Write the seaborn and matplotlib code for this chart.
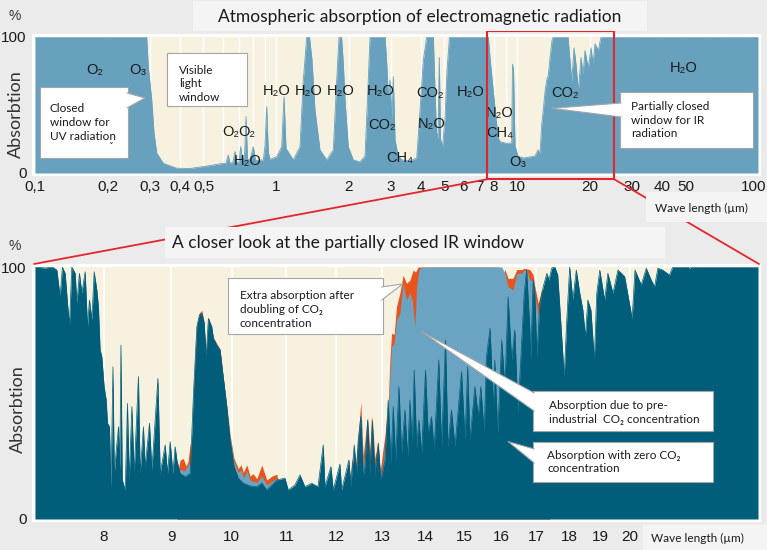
import matplotlib
matplotlib.use("Agg")
import matplotlib.pyplot as plt
import matplotlib.transforms as mtransforms
import seaborn as sns
import pandas as pd
from matplotlib import font_manager
from matplotlib.patches import Rectangle, Polygon
from matplotlib.lines import Line2D
from matplotlib.ticker import NullLocator, NullFormatter

# ------------------------------------------------------------------ data
# Full spectrum (top panel): wavelength in micrometre, absorption in %
full_wavelength = [0.100, 0.2906, 0.2952, 0.3050, 0.3118, 0.3199, 0.3407, 0.3873, 0.4398, 0.5158,
                   0.6043, 0.6201, 0.6339, 0.6442, 0.6629, 0.6756, 0.6887, 0.7021, 0.7135, 0.7261,
                   0.7401, 0.7508, 0.7616, 0.7800, 0.8051, 0.8222, 0.8857, 0.9002, 0.9150, 0.9291,
                   0.9444, 1.0067, 1.056, 1.0794, 1.1004, 1.1797, 1.2575, 1.2983, 1.3411, 1.377,
                   1.4105, 1.451, 1.522, 1.623, 1.729, 1.786, 1.826, 1.870, 1.902, 1.933,
                   1.995, 2.092, 2.231, 2.341, 2.415, 2.455, 2.834, 2.880, 2.924, 2.972,
                   3.029, 3.067, 3.118, 3.208, 3.324, 3.597, 3.835, 3.959, 4.086, 4.220,
                   4.496, 4.568, 4.634, 4.701, 4.760, 4.815, 4.908, 5.025, 5.122, 5.246,
                   7.486, 7.603, 7.727, 7.975, 8.238, 8.364, 8.502, 9.065, 9.506, 9.579,
                   9.672, 9.811, 10.095, 10.62, 11.32, 11.88, 12.23, 12.46, 12.66, 12.85,
                   13.07, 13.28, 13.49, 13.71, 13.98, 14.15, 16.28, 16.87, 17.24, 17.57,
                   17.97, 18.44, 18.79, 19.15, 19.76, 20.28, 20.67, 21.07, 21.74, 22.31,
                   100.0]
full_absorption = [100, 100, 78, 53.7, 29.4, 14.7, 7.1, 3.5, 3.3, 5.1,
                   7.1, 7, 13.2, 7, 8, 15.7, 7.5, 8, 19.3, 9,
                   12, 41.4, 10, 10, 19.3, 9, 9.6, 20, 48.8, 15,
                   10, 12, 19.3, 56.1, 18, 9.6, 19.3, 68.4, 100, 100,
                   83, 46.3, 17, 9.6, 17, 68.4, 100, 100, 80.7, 53.7,
                   19.3, 9.6, 8.1, 12.5, 68.4, 100, 100, 80.7, 56, 68.4,
                   39, 70.8, 24.3, 13.2, 9.6, 8.8, 11, 46.3, 83, 100,
                   100, 60, 30, 25, 85, 25, 19, 40, 75, 100,
                   100, 100, 84.6, 59.8, 35.3, 25.7, 23, 21.8, 22, 80,
                   75, 20, 12.5, 11, 11.8, 12.5, 17, 14, 35.3, 46.3,
                   60, 68.4, 72, 84.6, 97.8, 100, 100, 67, 92, 80,
                   60, 85, 72, 90, 77, 92, 80, 95, 90, 100,
                   100]

# IR window (bottom panel): absorption with zero CO2
zero_wavelength = [7.10, 7.23, 7.315, 7.375, 7.417, 7.447, 7.483, 7.513, 7.539, 7.570,
                   7.614, 7.637, 7.671, 7.703, 7.748, 7.779, 7.806, 7.839, 7.870, 7.907,
                   7.929, 7.952, 7.976, 8.008, 8.037, 8.055, 8.083, 8.104, 8.132, 8.151,
                   8.179, 8.212, 8.229, 8.246, 8.265, 8.307, 8.340, 8.365, 8.404, 8.438,
                   8.501, 8.526, 8.575, 8.601, 8.666, 8.702, 8.794, 8.829, 8.906, 8.942,
                   8.984, 9.026, 9.062, 9.089, 9.141, 9.222, 9.302, 9.356, 9.411, 9.453,
                   9.493, 9.531, 9.564, 9.602, 9.659, 9.686, 9.743, 9.799, 9.845, 9.914,
                   9.971, 10.040, 10.116, 10.205, 10.325, 10.446, 10.537, 10.630, 10.817, 10.971,
                   11.034, 11.164, 11.261, 11.360, 11.493, 11.620, 11.727, 11.762, 11.885, 11.933,
                   12.073, 12.109, 12.263, 12.306, 12.377, 12.428, 12.463, 12.521, 12.571, 12.610,
                   12.669, 12.720, 12.771, 12.831, 12.905, 12.966, 13.057, 13.132, 13.194, 13.247,
                   13.302, 13.379, 13.442, 13.519, 13.583, 13.638, 13.692, 13.740, 13.797, 13.852,
                   13.917, 14.013, 14.077, 14.160, 14.224, 14.341, 14.409, 14.51, 14.57, 14.66,
                   14.75, 14.92, 15.01, 15.08, 15.14, 15.27, 15.36, 15.43, 15.52, 15.58,
                   15.68, 15.77, 15.81, 15.89, 16.00, 16.09, 16.18, 16.28, 16.37, 16.46,
                   16.64, 16.71, 16.80, 16.83, 16.90, 16.95, 17.01, 17.10, 17.20, 17.31,
                   17.37, 17.46, 17.55, 17.64, 17.73, 17.84, 17.92, 18.01, 18.11, 18.22,
                   18.33, 18.43, 18.51, 18.59, 18.69, 18.80, 18.88, 18.98, 19.14, 19.25,
                   19.42, 19.59, 19.82, 20.08, 20.18, 20.40, 20.58, 20.76, 20.88, 21.00,
                   21.18, 21.43, 21.55, 22.11, 22.19, 22.27, 25.0]
zero_absorption = [100, 99.6, 100, 98.8, 88.2, 99.9, 97.5, 85.6, 77, 100,
                   97.5, 85.6, 97.5, 89.6, 98.1, 76.3, 86.9, 79, 98.1, 90.9,
                   84.2, 67.1, 64.4, 52.5, 47.2, 38, 36.6, 12.2, 60.4, 18.1,
                   27.4, 36.6, 19.4, 69, 15.5, 11.5, 45.9, 15.5, 44.6, 18.1,
                   56.5, 18.1, 36.6, 20.8, 38, 19.4, 55.8, 18.1, 29.4, 18.1,
                   30.7, 18.1, 28.7, 23.4, 18.1, 16.8, 18.1, 49.9, 76.3, 81,
                   81.6, 77.7, 64.4, 79.6, 76.3, 71.7, 69, 67.1, 57.8, 44.6,
                   31.3, 20.8, 16.2, 14.2, 13.1, 12.8, 14.3, 11.5, 15.5, 16.2,
                   11.5, 13.5, 17.5, 12.8, 14.2, 12.8, 29.4, 12.8, 20.8, 11.5,
                   21.8, 11.5, 23.4, 12.8, 29.4, 18.1, 31.3, 40.6, 16.8, 20.8,
                   39.3, 18.1, 39.3, 18.1, 30, 15.5, 23.4, 47.2, 22.1, 44.6,
                   23.4, 52.5, 26.1, 43.3, 24.7, 47.2, 28.7, 59.1, 28.7, 39.3,
                   26.1, 59.1, 34, 40.6, 27.4, 63.1, 28.7, 71, 28.7, 43.3,
                   28.7, 58.5, 31.3, 60.4, 31.3, 52.5, 40.6, 52.5, 34, 64.4,
                   75.7, 43.3, 63.1, 34, 71, 52.5, 88.2, 63.1, 75, 42,
                   89.6, 98.8, 76.3, 63.1, 94.8, 89.6, 64.4, 85.6, 92.2, 97.5,
                   94.8, 99.6, 100, 96.8, 79, 56.5, 79, 100, 86.9, 98.8,
                   89.6, 82.9, 72.3, 86.9, 82.9, 63.1, 89.6, 98.8, 86.9, 97.5,
                   89.6, 98.8, 96.2, 79.6, 98.8, 92.9, 99.5, 94.8, 92.2, 99.5,
                   98.8, 96.8, 100, 100, 99.5, 100, 100]

# Absorption due to pre-industrial CO2 concentration
pre_wavelength = [9.089, 9.141, 9.206, 9.270, 9.318, 9.356, 9.411, 9.493, 9.531, 9.564,
                  9.602, 9.686, 9.799, 9.914, 9.971, 10.040, 10.116, 10.164, 10.205, 10.266,
                  10.325, 10.38, 10.446, 10.537, 10.630, 10.726, 10.817, 10.876, 12.242, 12.334,
                  12.392, 12.463, 12.521, 12.571, 12.669, 12.720, 12.771, 12.831, 12.905, 12.943,
                  13.0, 13.057, 13.132, 13.170, 13.209, 13.268, 13.323, 13.400, 13.477, 13.557,
                  13.638, 13.692, 13.757, 13.797, 13.852, 13.917, 16.00, 16.09, 16.18, 16.32,
                  16.43, 16.57, 16.64, 16.71, 16.80, 16.90, 16.95, 17.05, 17.15, 17.25,
                  17.40]
pre_absorption = [16.8, 19.8, 19.0, 21.4, 22.6, 45, 70, 81.8, 76, 63,
                  79, 70, 66, 44, 32, 22.5, 18.5, 19.5, 16.3, 19,
                  15.5, 15, 14.5, 17, 13.5, 15, 16.3, 11, 11, 22,
                  16, 30, 42, 20, 37, 20, 38, 20, 28, 16,
                  20, 28.7, 43, 56.5, 68.4, 69.7, 79, 81.6, 93.5, 86.9,
                  89.6, 86.9, 76.3, 92.2, 98.8, 100, 100, 97.5, 92.2, 90.9,
                  97.5, 97.5, 98.8, 99, 94.8, 94.8, 89.6, 80.3, 89.6, 90,
                  90]

# Extra absorption after doubling of CO2 concentration
dbl_wavelength = [9.089, 9.141, 9.190, 9.238, 9.270, 9.302, 9.335, 9.356, 9.411, 9.453,
                  9.493, 9.531, 9.564, 9.602, 9.686, 9.799, 9.914, 9.971, 10.040, 10.116,
                  10.164, 10.205, 10.266, 10.325, 10.38, 10.446, 10.537, 10.630, 10.726, 10.817,
                  10.876, 12.242, 12.334, 12.392, 12.463, 12.521, 12.571, 12.669, 12.720, 12.771,
                  12.831, 12.905, 12.943, 13.0, 13.057, 13.132, 13.170, 13.209, 13.268, 13.323,
                  13.400, 13.477, 13.557, 13.638, 13.716, 13.773, 13.835, 15.90, 16.00, 16.04,
                  16.09, 16.18, 16.32, 16.43, 16.57, 16.64, 16.80, 16.90, 16.95, 17.05,
                  17.15, 17.25, 17.40]
dbl_absorption = [16.8, 23.4, 24, 21, 23, 30.3, 26, 50.5, 77, 81.8,
                  82.8, 78.2, 64.4, 80, 72, 67.3, 45, 33.5, 24, 20,
                  21.5, 18.5, 21.5, 17, 18, 16, 21.4, 15.5, 17, 17.8,
                  11, 11, 24, 19, 33, 46.5, 25, 40.5, 27, 41,
                  24, 31, 18, 26, 33, 46, 63, 73.7, 73.3, 84.3,
                  89.6, 96.8, 93.5, 94.8, 98.8, 98, 100, 100, 99, 96.5,
                  99, 95.5, 95.5, 99, 99, 99.5, 99, 97, 92.5, 85.6,
                  90.9, 91, 91]

top_ticks = [0.1, 0.2, 0.3, 0.4, 0.5, 1, 2, 3, 4, 5, 6, 7, 8, 10, 20, 30, 40, 50, 100]
top_tick_labels = ["0,1", "0,2", "0,3", "0,4", "0,5", "1", "2", "3", "4", "5", "6", "7", "8",
                   "10", "20", "30", "40", "50", "100"]
bottom_ticks = [8, 9, 10, 11, 12, 13, 14, 15, 16, 17, 18, 19, 20]
bottom_tick_labels = ["8", "9", "10", "11", "12", "13", "14", "15", "16", "17", "18", "19", "20"]

# molecule labels: (text, wavelength, absorption)
molecule_labels = [("O₂", 0.1774, 75.7), ("O₃", 0.2676, 75.7),
                   ("H₂O", 1.007, 60.5), ("H₂O", 1.371, 60.5), ("H₂O", 1.861, 60.5),
                   ("H₂O", 2.719, 60.5), ("CO₂", 2.753, 35.3),
                   ("O₂", 0.6506, 30.1), ("O₂", 0.758, 30.1), ("H₂O", 0.7602, 8.8),
                   ("CH₄", 3.269, 10.8), ("CO₂", 4.355, 59), ("N₂O", 4.44, 36),
                   ("H₂O", 6.427, 59.6), ("N₂O", 8.502, 43.9), ("CH₄", 8.446, 29.6),
                   ("O₃", 10.13, 8.3), ("CO₂", 15.82, 58.6), ("H₂O", 49.3, 77)]

# ------------------------------------------------------------------ style
sns.set_theme(style="white")
names = {f.name for f in font_manager.fontManager.ttflist}
NARROW = "Liberation Sans Narrow" if "Liberation Sans Narrow" in names else "Liberation Sans"
SANS = ["Lato", "DejaVu Sans"]
plt.rcParams["font.family"] = [NARROW, "DejaVu Sans"]

BG = "#ebebeb"
CREAM = "#f7f1df"
TOPBLUE = "#67a1be"
DARK = "#005e7a"
LIGHT = "#6aa4c2"
ORANGE = "#e8541c"
RED = "#e3262b"
TXT = "#1a1a1a"

W, H = 767, 550
fig = plt.figure(figsize=(W / 100, H / 100), dpi=100, facecolor=BG)


def fx(x):
    return x / W


def fy(y):
    return 1 - y / H


def rect_px(x0, y0, x1, y1, fc, ec="none", lw=0.0, z=3):
    r = Rectangle((fx(x0), fy(y1)), fx(x1) - fx(x0), fy(y0) - fy(y1),
                  transform=fig.transFigure, fc=fc, ec=ec, lw=lw, zorder=z)
    fig.add_artist(r)


def callout(x0, y0, x1, y1, base1=None, base2=None, tip=None):
    rect_px(x0, y0, x1, y1, "white", ec="#a5a5a5", lw=0.8, z=6)
    if tip is not None:
        pts = [base1, tip, base2]
        poly = Polygon([(fx(p[0]), fy(p[1])) for p in pts], closed=True,
                       transform=fig.transFigure, fc="white", ec="none", zorder=6.1)
        fig.add_artist(poly)
        for b in (base1, base2):
            fig.add_artist(Line2D([fx(b[0]), fx(tip[0])], [fy(b[1]), fy(tip[1])],
                                  transform=fig.transFigure, color="#a5a5a5", lw=0.8, zorder=6.2))


# white frames behind the plot areas
rect_px(32, 34, 761, 176, "white", z=-1)
rect_px(32, 264, 761, 522, "white", z=-1)

# ------------------------------------------------------------------ top panel
ax1 = fig.add_axes([fx(35), fy(173), fx(758) - fx(35), fy(37) - fy(173)])
ax1.set_facecolor(CREAM)
ax1.set_xscale("log")
for g in [0.2, 0.3, 0.4, 0.5, 0.6, 0.7, 0.8, 0.9, 1, 2, 3, 4, 5, 6, 7, 8, 9,
          10, 20, 30, 40, 50, 60, 70, 80, 90]:
    ax1.axvline(g, color="white", lw=1.0, zorder=0.5)
ax1.fill_between(full_wavelength, 0, full_absorption, color=TOPBLUE, lw=0, zorder=1)
df_top = pd.DataFrame({"wl": full_wavelength, "ab": full_absorption})
sns.lineplot(data=df_top, x="wl", y="ab", ax=ax1, color=TOPBLUE, lw=0.6,
             estimator=None, sort=False, zorder=1.1)
ax1.set_xlim(0.1, 100)
ax1.set_ylim(0, 100)
ax1.xaxis.set_minor_locator(NullLocator())
ax1.xaxis.set_minor_formatter(NullFormatter())
ax1.set_xticks(top_ticks)
ax1.set_xticklabels(top_tick_labels)
ax1.set_yticks([0, 100])
ax1.set_yticklabels(["0", "100"])
ax1.tick_params(axis="x", length=0, pad=5, labelsize=11, labelcolor=TXT)
ax1.tick_params(axis="y", length=0, pad=6, labelsize=11, labelcolor=TXT)
# the last label sits at the right edge of the picture: nudge it inside
last = ax1.get_xticklabels()[-1]
last.set_transform(last.get_transform() +
                   mtransforms.ScaledTranslation(-4 / 100, 0, fig.dpi_scale_trans))
ax1.set_xlabel("")
ax1.set_ylabel("")
for s in ax1.spines.values():
    s.set_visible(False)
for txt, wl, ab in molecule_labels:
    ax1.text(wl, ab, txt, ha="center", va="center", fontsize=10.5, color=TXT, zorder=5)
# red zoom rectangle
ax1.add_patch(Rectangle((7.507, -4.6), 25.33 - 7.507, 109.2, fill=False, ec=RED, lw=1.5,
                        clip_on=False, zorder=7))

# ------------------------------------------------------------------ bottom panel
ax2 = fig.add_axes([fx(35), fy(519), fx(758) - fx(35), fy(267) - fy(519)])
ax2.set_facecolor(CREAM)
ax2.set_xscale("log")
for g in bottom_ticks:
    ax2.axvline(g, color="white", lw=1.2, zorder=0.5)
ax2.fill_between(dbl_wavelength, 0, dbl_absorption, color=ORANGE, lw=0, zorder=1)
ax2.fill_between(pre_wavelength, 0, pre_absorption, color=LIGHT, lw=0, zorder=2)
ax2.fill_between(zero_wavelength, 0, zero_absorption, color=DARK, lw=0, zorder=3)
df_zero = pd.DataFrame({"wl": zero_wavelength, "ab": zero_absorption})
sns.lineplot(data=df_zero, x="wl", y="ab", ax=ax2, color=DARK, lw=0.5,
             estimator=None, sort=False, zorder=3.1)
ax2.set_xlim(7.10, 25.0)
ax2.set_ylim(0, 100)
ax2.xaxis.set_minor_locator(NullLocator())
ax2.xaxis.set_minor_formatter(NullFormatter())
ax2.set_xticks(bottom_ticks)
ax2.set_xticklabels(bottom_tick_labels)
ax2.set_yticks([0, 100])
ax2.set_yticklabels(["0", "100"])
ax2.tick_params(axis="x", length=0, pad=8, labelsize=11, labelcolor=TXT)
ax2.tick_params(axis="y", length=0, pad=6, labelsize=11, labelcolor=TXT)
ax2.set_xlabel("")
ax2.set_ylabel("")
for s in ax2.spines.values():
    s.set_visible(False)

# ------------------------------------------------------------------ connectors & titles
for (a, b) in [((487, 179.3), (34, 264)), ((614.3, 179.3), (759, 264))]:
    fig.add_artist(Line2D([fx(a[0]), fx(b[0])], [fy(a[1]), fy(b[1])], transform=fig.transFigure,
                          color=RED, lw=1.3, zorder=4))

rect_px(193, 1, 647, 31, "#f4f4f4", z=5)
fig.text(fx(420), fy(17), "Atmospheric absorption of electromagnetic radiation", ha="center",
         va="center", fontsize=12.5, family=SANS, color=TXT, zorder=8)
rect_px(165, 227, 665, 258, "#f4f4f4", z=5)
fig.text(fx(172), fy(243), "A closer look at the partially closed IR window", ha="left",
         va="center", fontsize=12.5, family=SANS, color=TXT, zorder=8)
rect_px(646, 192, 767, 222, "#f4f4f4", z=5)
fig.text(fx(655), fy(208), "Wave length (µm)", ha="left", va="center", fontsize=8.5,
         family=SANS, color=TXT, zorder=8)
rect_px(643, 525, 767, 550, "#f4f4f4", z=5)
fig.text(fx(651), fy(538), "Wave length (µm)", ha="left", va="center", fontsize=8.5,
         family=SANS, color=TXT, zorder=8)

fig.text(fx(15), fy(16), "%", ha="center", va="center", fontsize=10, color="#333333")
fig.text(fx(15), fy(246), "%", ha="center", va="center", fontsize=10, color="#333333")
fig.text(fx(15.5), fy(114), "Absorbtion", rotation=90, ha="center", va="center",
         fontsize=13, family=SANS, color="#333333")
fig.text(fx(18), fy(409), "Absorbtion", rotation=90, ha="center", va="center",
         fontsize=13, family=SANS, color="#333333")

# ------------------------------------------------------------------ callouts
ANN = dict(ha="left", va="center", fontsize=8.5, family=SANS, color=TXT,
           linespacing=1.3, zorder=8)
callout(40, 87, 128, 158, (127, 93), (127, 108), (145, 98))
fig.text(fx(50), fy(122.5), "Closed\nwindow for\nUV radiation", **ANN)
fig.text(fx(111), fy(148), "ˇ", ha="center", va="center", fontsize=7, color=TXT, zorder=8,
         family=["DejaVu Sans"])
callout(166.7, 52.7, 246.7, 106)
fig.text(fx(179), fy(83.7), "Visible\nlight\nwindow", **ANN)
callout(620, 91.7, 752.7, 147.7, (621, 103), (621, 117), (551.7, 108.3))
fig.text(fx(631), fy(120), "Partially closed\nwindow for IR\nradiation", **ANN)
callout(228.3, 278.3, 382.7, 334.3, (381.7, 287), (381.7, 300), (402.7, 284))
fig.text(fx(240), fy(309.5), "Extra absorption after\ndoubling of CO₂\nconcentration", **ANN)
callout(533.3, 391, 713.3, 431, (534.3, 393), (534.3, 411), (421.7, 331.7))
fig.text(fx(549), fy(412.5), "Absorption due to pre-\nindustrial  CO₂ concentration", **ANN)
callout(533.3, 441.7, 713.3, 481.7, (534.3, 449), (534.3, 463), (508.3, 441.7))
fig.text(fx(547), fy(462), "Absorption with zero CO₂\nconcentration", **ANN)

fig.savefig("out.png", dpi=100, facecolor=BG)
